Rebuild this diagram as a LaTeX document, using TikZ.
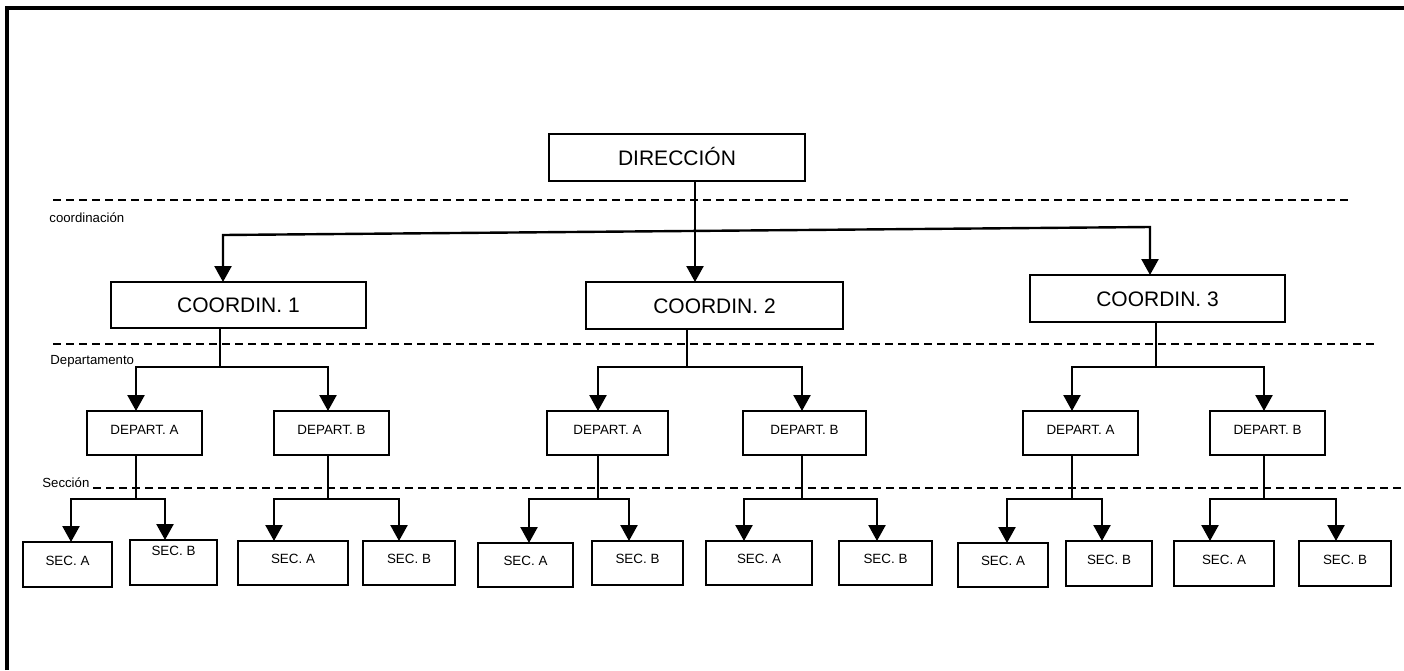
\documentclass[tikz,border=0pt]{standalone}
\usepackage{fontspec}
\setmainfont{Liberation Sans}
\usetikzlibrary{arrows.meta}
\tikzset{
  box/.style={draw, line width=1.2pt, inner sep=0pt, outer sep=0pt, align=center},
  big/.style={box, font=\fontsize{10.5}{12}\selectfont, text height=7.5pt, text depth=0pt},
  small/.style={box, font=\fontsize{6.7}{8}\selectfont, text height=4.8pt, text depth=3pt},
  secbox/.style={box, font=\fontsize{6.7}{8}\selectfont, text height=4.8pt, text depth=4pt},
  lbl/.style={font=\fontsize{6.6}{8}\selectfont, inner sep=0pt, anchor=base west},
  conn/.style={line width=1.2pt},
  arr/.style={line width=1.2pt, -{Triangle[width=8.5pt,length=8pt]}},
  arrs/.style={line width=1.2pt, {Triangle[width=8.5pt,length=8pt]}-{Triangle[width=8.5pt,length=8pt]}},
  sep/.style={line width=1.1pt, dash pattern=on 4pt off 2.5pt},
}
% name, x1, y1, x2, y2, style, text
\newcommand\bx[7]{\node[#6, minimum width={(#4-#2)*0.5pt}, minimum height={(#5-#3)*0.5pt}] (#1) at ({(#2+#4)/2},{(#3+#5)/2}) {#7};}
% id, parent, xv, ybar, xl, childL, xr, childR
\newcommand\fork[8]{%
  \coordinate (#1M) at (#3,#4);
  \coordinate (#1L) at (#5,#4);
  \coordinate (#1R) at (#7,#4);
  \draw[conn] (#1M |- #2.south) -- (#1M);
  \draw[arrs] (#1L |- #6.north) -- (#1L) -- (#1R) -- (#1R |- #8.north);
}
\begin{document}
\begin{tikzpicture}[x=0.5pt,y=-0.5pt]
\useasboundingbox (0,0) rectangle (1404,670);
% frame
\draw[line width=1.6pt] (7,670) -- (7,8) -- (1404,8);
% separators
\coordinate (s1a) at (53,200);  \coordinate (s1b) at (1348,200);
\coordinate (s2a) at (53,344);  \coordinate (s2b) at (1377,344);
\coordinate (s3a) at (93,488);  \coordinate (s3b) at (1402,488);
\draw[sep] (s1a) -- (s1b);
\draw[sep] (s2a) -- (s2b);
\draw[sep] (s3a) -- (s3b);
\node[lbl] (lcoord) at (49,222) {coordinación};
\node[lbl] (ldep) at (50,364) {Departamento};
\node[lbl] (lsec) at (42,487) {Sección};
% boxes
\bx{dir}{549}{134}{805}{181}{big}{DIRECCIÓN}
\bx{c1}{111}{282}{366}{328}{big}{COORDIN. 1}
\bx{c2}{586}{282}{843}{329}{big}{COORDIN. 2}
\bx{c3}{1030}{275}{1285}{322}{big}{COORDIN. 3}
\bx{da1}{87}{411}{202}{455}{small}{DEPART. A}
\bx{db1}{274}{411}{389}{455}{small}{DEPART. B}
\bx{da2}{547}{411}{668}{455}{small}{DEPART. A}
\bx{db2}{743}{411}{866}{455}{small}{DEPART. B}
\bx{da3}{1023}{411}{1138}{455}{small}{DEPART. A}
\bx{db3}{1210}{411}{1325}{455}{small}{DEPART. B}
\bx{sa1}{23}{542}{112}{587}{secbox}{SEC. A}
\bx{sb1}{130}{540}{217}{585}{secbox, text depth=11.5pt}{SEC. B}
\bx{sa2}{238}{541}{348}{585}{secbox}{SEC. A}
\bx{sb2}{363}{541}{455}{585}{secbox}{SEC. B}
\bx{sa3}{478}{543}{573}{587}{secbox}{SEC. A}
\bx{sb3}{592}{541}{683}{585}{secbox}{SEC. B}
\bx{sa4}{706}{541}{812}{585}{secbox}{SEC. A}
\bx{sb4}{839}{541}{932}{585}{secbox}{SEC. B}
\bx{sa5}{958}{543}{1048}{587}{secbox}{SEC. A}
\bx{sb5}{1066}{541}{1152}{586}{secbox}{SEC. B}
\bx{sa6}{1174}{541}{1274}{586}{secbox}{SEC. A}
\bx{sb6}{1299}{541}{1391}{586}{secbox}{SEC. B}
% top level connectors
\coordinate (v0) at (695,181);
\draw[arr] (v0 |- dir.south) -- (v0 |- c2.north);
\coordinate (hL) at (223,235);
\coordinate (hR) at (1150,227);
\draw[arrs] (hL |- c1.north) -- (hL) -- (hR) -- (hR |- c3.north);
% coordination to departments
\fork{f1}{c1}{220}{367}{136}{da1}{328}{db1}
\fork{f2}{c2}{687}{367}{598}{da2}{802}{db2}
\fork{f3}{c3}{1156}{367}{1072}{da3}{1264}{db3}
% departments to sections
\fork{g1}{da1}{136}{499}{71}{sa1}{165}{sb1}
\fork{g2}{db1}{328}{499}{274}{sa2}{399}{sb2}
\fork{g3}{da2}{598}{499}{529}{sa3}{629}{sb3}
\fork{g4}{db2}{802}{499}{744}{sa4}{877}{sb4}
\fork{g5}{da3}{1072}{499}{1007}{sa5}{1102}{sb5}
\fork{g6}{db3}{1264}{499}{1210}{sa6}{1336}{sb6}
\end{tikzpicture}
\end{document}
